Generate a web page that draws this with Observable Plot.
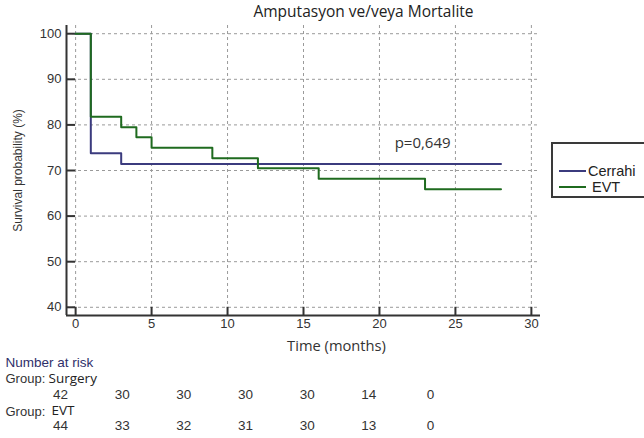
<!DOCTYPE html>
<html>
<head>
<meta charset="utf-8">
<script src="https://cdn.jsdelivr.net/npm/d3@7"></script>
<script src="https://cdn.jsdelivr.net/npm/@observablehq/plot@0.6"></script>
<style>
  html, body { margin: 0; padding: 0; background: #fff; }
  #wrap { position: relative; width: 644px; height: 438px; overflow: hidden; background: #fff; }
  #main { position: absolute; left: 0; top: 0; }
  #risk { position: absolute; left: 0; top: 350px; }
  #legend { position: absolute; left: 551px; top: 142px; width: 110px; height: 52px;
            border: 2px solid #3a3a3a; background: #fff; font-family: "Liberation Sans", Arial, sans-serif; font-size: 14.5px; color: #222; }
  .lg { position: absolute; left: 6px; height: 16px; line-height: 16px; display: flex; align-items: center; }
  .lg i { display: inline-block; width: 27px; height: 2px; margin-right: 2px; }
</style>
</head>
<body>
<div id="wrap">
  <div id="main"></div>
  <div id="legend">
    <div class="lg" style="top:18.5px"><i style="background:#3b3b7e"></i>Cerrahi</div>
    <div class="lg" style="top:35.3px"><i style="background:#1f6b1f"></i><span style="margin-left:4px">EVT</span></div>
  </div>
  <div id="risk"></div>
</div>
<script>
// ---- data ----
const surgeryTimes = [0, 1, 3, 28];
const surgerySurv  = [100, 73.8, 71.4, 71.4];
const evtTimes = [0, 1, 3, 4, 5, 9, 12, 16, 23, 28];
const evtSurv  = [100, 81.8, 79.5, 77.3, 75.0, 72.7, 70.5, 68.2, 65.9, 65.9];
const xTicks = [0, 5, 10, 15, 20, 25, 30];
const yTicks = [40, 50, 60, 70, 80, 90, 100];
const riskTimes = [0, 5, 10, 15, 20, 25, 30];
const riskSurgery = [42, 30, 30, 30, 30, 14, 0];
const riskEVT = [44, 33, 32, 31, 30, 13, 0];
const pLabel = [{t: 21, s: 76, text: "p=0,649"}];
const titleText = "Amputasyon ve/veya Mortalite";
const xLabel = "Time (months)";
const yLabel = "Survival probability (%)";

const series = [
  ...surgeryTimes.map((t, i) => ({group: "Cerrahi", t, s: surgerySurv[i]})),
  ...evtTimes.map((t, i) => ({group: "EVT", t, s: evtSurv[i]}))
];

const xDom = [-0.6, 30.6];
const yDom = [38.2, 101.8];

const main = Plot.plot({
  width: 644, height: 358,
  marginLeft: 66, marginRight: 104, marginTop: 25, marginBottom: 43,
  style: {fontFamily: "Liberation Sans, Arial, sans-serif", fontSize: "13px", color: "#333", background: "#fff"},
  x: {domain: xDom, ticks: xTicks},
  y: {domain: yDom, ticks: yTicks},
  marks: [
    Plot.ruleY(yTicks, {y: d => d, stroke: "#9a9a9a", strokeDasharray: "3,3", strokeWidth: 1}),
    Plot.ruleX(xTicks, {x: d => d, stroke: "#9a9a9a", strokeDasharray: "3,3", strokeWidth: 1}),
    // inward ticks
    Plot.ruleY(yTicks, {y: d => d, x1: xDom[0], x2: 0, stroke: "#333", strokeWidth: 2}),
    Plot.ruleX(xTicks, {x: d => d, y1: yDom[0], y2: 40, stroke: "#333", strokeWidth: 2}),
    Plot.axisY(yTicks, {tickSize: 0, tickPadding: 5, label: null, fontSize: 13, fill: "#333"}),
    Plot.axisX(xTicks, {tickSize: 0, tickPadding: 3, label: null, fontSize: 13, fill: "#333"}),
    // axis lines
    Plot.ruleX([xDom[0]], {stroke: "#333", strokeWidth: 2}),
    Plot.ruleY([yDom[0]], {stroke: "#333", strokeWidth: 2}),
    // survival curves
    Plot.line(series.filter(d => d.group === "Cerrahi"), {x: "t", y: "s", curve: "step-after", stroke: "#3b3b7e", strokeWidth: 2}),
    Plot.line(series.filter(d => d.group === "EVT"), {x: "t", y: "s", curve: "step-after", stroke: "#1f6b1f", strokeWidth: 2}),
    Plot.text(pLabel, {x: "t", y: "s", text: "text", textAnchor: "start", fontFamily: "Open Sans, sans-serif", fontSize: 15, fill: "#333"}),
    // titles
    Plot.text([titleText], {frameAnchor: "top", lineAnchor: "middle", dx: 60, dy: -13, fontFamily: "Open Sans, sans-serif", fontSize: 15.5, fill: "#222"}),
    Plot.text([xLabel], {frameAnchor: "bottom", lineAnchor: "middle", dx: 33, dy: 31, fontFamily: "Open Sans, sans-serif", fontSize: 14.7, fill: "#333"}),
    Plot.text([yLabel], {frameAnchor: "left", textAnchor: "middle", lineAnchor: "middle", rotate: -90, dx: -48, fontSize: 12, fill: "#333"})
  ]
});
document.getElementById("main").appendChild(main);

const riskRows = [
  ...riskTimes.map((t, i) => ({row: "Surgery", t, n: riskSurgery[i]})),
  ...riskTimes.map((t, i) => ({row: "EVT", t, n: riskEVT[i]}))
];
const risk = Plot.plot({
  width: 644, height: 88,
  margin: 0,
  style: {fontFamily: "Liberation Sans, Arial, sans-serif", fontSize: "13px", background: "transparent"},
  x: {domain: [0, 30], range: [60, 430], axis: null},
  y: {type: "point", domain: ["Surgery", "EVT"], range: [44, 75], padding: 0, axis: null},
  marks: [
    Plot.text(riskRows, {x: "t", y: "row", text: "n", fontSize: 13.5, fill: "#333"}),
    Plot.text(["Number at risk"], {frameAnchor: "top-left", lineAnchor: "middle", dx: 5, dy: 12, fontSize: 13.5, fill: "#2f2f6a"}),
    Plot.text(["Group:"], {frameAnchor: "top-left", lineAnchor: "middle", dx: 5, dy: 28, fontSize: 13, fill: "#333"}),
    Plot.text(["Surgery"], {frameAnchor: "top-left", lineAnchor: "middle", dx: 48, dy: 28, fontFamily: "Open Sans, sans-serif", fontSize: 13.5, fill: "#222"}),
    Plot.text(["Group:"], {frameAnchor: "top-left", lineAnchor: "middle", dx: 5, dy: 61, fontSize: 13, fill: "#333"}),
    Plot.text(["EVT"], {frameAnchor: "top-left", lineAnchor: "middle", dx: 51, dy: 60, fontFamily: "Open Sans, sans-serif", fontSize: 13.5, fill: "#222"})
  ]
});
document.getElementById("risk").appendChild(risk);
</script>
</body>
</html>
